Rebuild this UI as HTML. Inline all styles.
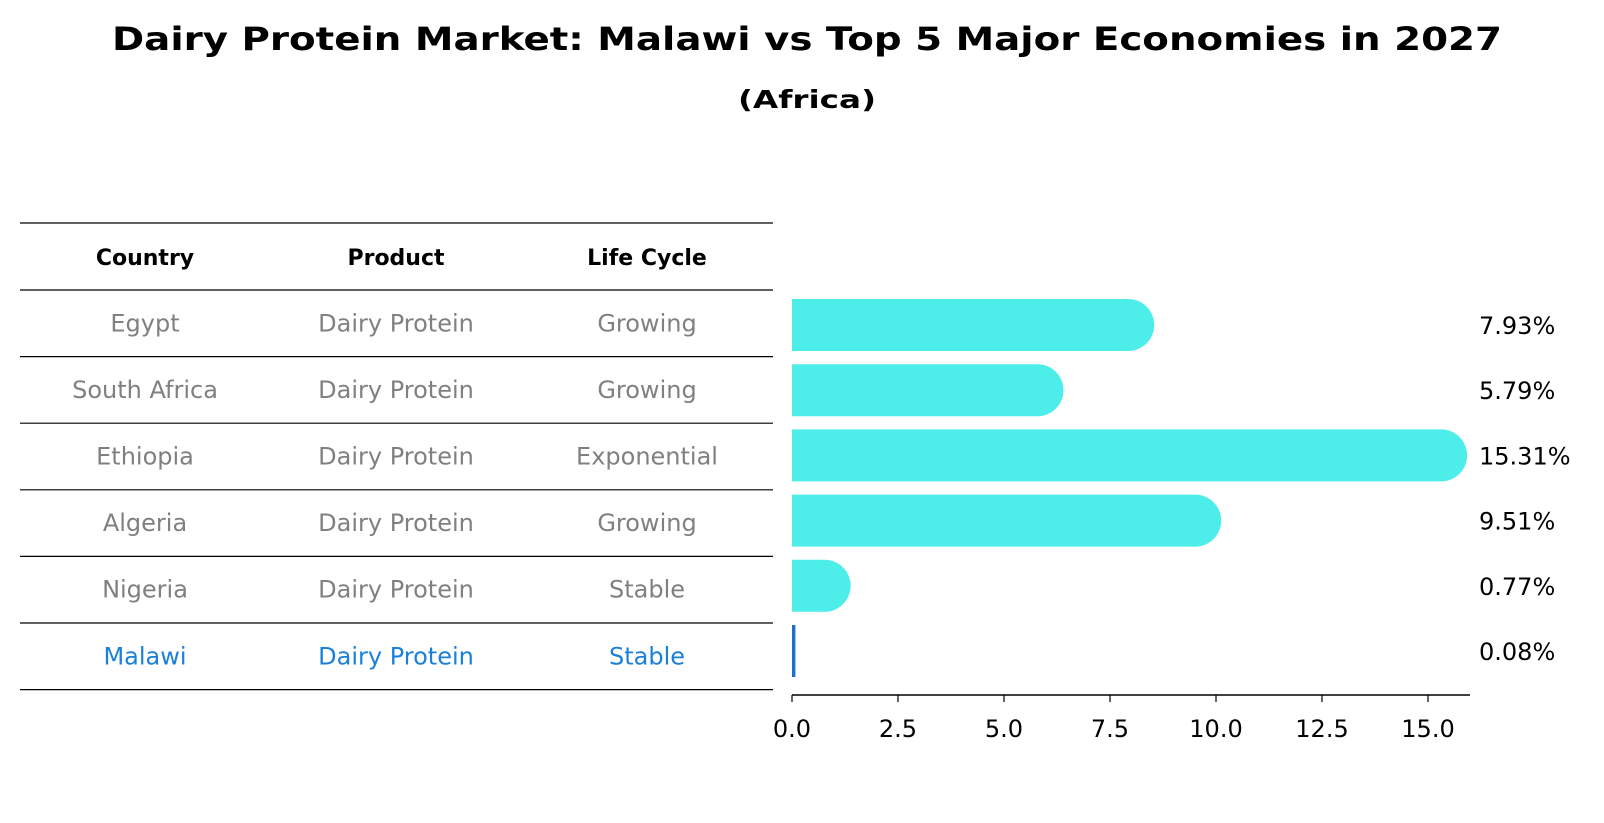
<!DOCTYPE html>
<html><head><meta charset="utf-8"><style>
html,body{margin:0;padding:0;background:#fff;}
svg{display:block;font-family:"DejaVu Sans","Liberation Sans",sans-serif;}
</style></head><body>
<svg id="chart" width="1604" height="823" viewBox="0 0 1604 823" xmlns="http://www.w3.org/2000/svg">
<text x="807" y="50" text-anchor="middle" font-size="32" font-weight="bold" fill="#000" textLength="1390" lengthAdjust="spacingAndGlyphs">Dairy Protein Market: Malawi vs Top 5 Major Economies in 2027</text>
<text x="807" y="108" text-anchor="middle" font-size="25" font-weight="bold" fill="#000" textLength="138" lengthAdjust="spacingAndGlyphs">(Africa)</text>
<g id="table"></g>
<g id="bars"></g>
</svg>
<script>
const countries = ["Egypt","South Africa","Ethiopia","Algeria","Nigeria","Malawi"];
const products = ["Dairy Protein","Dairy Protein","Dairy Protein","Dairy Protein","Dairy Protein","Dairy Protein"];
const lifeCycles = ["Growing","Growing","Exponential","Growing","Stable","Stable"];
const values = [7.93,5.79,15.31,9.51,0.77,0.08];
const valueLabels = ["7.93%","5.79%","15.31%","9.51%","0.77%","0.08%"];
const tickValues = [0,2.5,5,7.5,10,12.5,15];
const tickLabels = ["0.0","2.5","5.0","7.5","10.0","12.5","15.0"];
const headers = ["Country","Product","Life Cycle"];

const NS="http://www.w3.org/2000/svg";
function mk(tag,attrs,parent){const e=document.createElementNS(NS,tag);for(const k in attrs)e.setAttribute(k,attrs[k]);parent.appendChild(e);return e;}
const x0=792, pxPerUnit=42.4;
function xs(v){return x0+v*pxPerUnit;}
const rowTop=290, rowH=66.6;
function yc(i){return rowTop+rowH*(i+0.5);}
function yb(i){return 325+i*65.2;}
const tbl=document.getElementById('table');
const colX=[145,396,647];
for(let i=0;i<=countries.length+1;i++){
  const y=223+(i===0?0:67+(i-1)*rowH);
  const l=mk('line',{x1:20,x2:773,y1:y,y2:y,stroke:'#000','stroke-width':1.2},tbl);
  
  
}
headers.forEach((h,j)=>{
  const t=mk('text',{x:colX[j],y:265,'text-anchor':'middle','font-size':22,'font-weight':'bold',fill:'#000'},tbl);
  t.textContent=h;
  
  
});
countries.forEach((c,i)=>{
  const col=c==="Malawi"?'#1a80d9':'#808080';
  [c,products[i],lifeCycles[i]].forEach((txt,j)=>{
    const t=mk('text',{x:colX[j],y:yc(i)+8,'text-anchor':'middle','font-size':24,fill:col},tbl);
    t.textContent=txt;
    
    
  });
});
const bg=document.getElementById('bars');
const bh=52;
values.forEach((v,i)=>{
  const malawi=countries[i]==="Malawi";
  const cy=yb(i);
  const w=xs(v)-x0;
  let el;
  if(malawi){
    el=mk('rect',{x:x0,y:cy-bh/2,width:Math.max(w,3),height:bh,fill:'#1a70d0'},bg);
  } else {
    const r=bh/2, xe=xs(v);
    el=mk('path',{d:`M${x0},${cy-r} L${xe},${cy-r} A${r},${r} 0 0 1 ${xe},${cy+r} L${x0},${cy+r} Z`,fill:'#4deeea'},bg);
  }
  
  
  const t=mk('text',{x:1479,y:cy+9,'font-size':24,fill:'#000'},bg);
  t.textContent=valueLabels[i];
  
  
});
const ax=mk('line',{x1:x0,x2:1470,y1:695,y2:695,stroke:'#000','stroke-width':1.5},bg);


tickValues.forEach((tv,k)=>{
  const tk=mk('line',{x1:xs(tv),x2:xs(tv),y1:695,y2:702,stroke:'#000','stroke-width':1.2},bg);
  
  
  const t=mk('text',{x:xs(tv),y:737,'text-anchor':'middle','font-size':24,fill:'#000'},bg);
  t.textContent=tickLabels[k];
  
  
});
</script>
</body></html>
